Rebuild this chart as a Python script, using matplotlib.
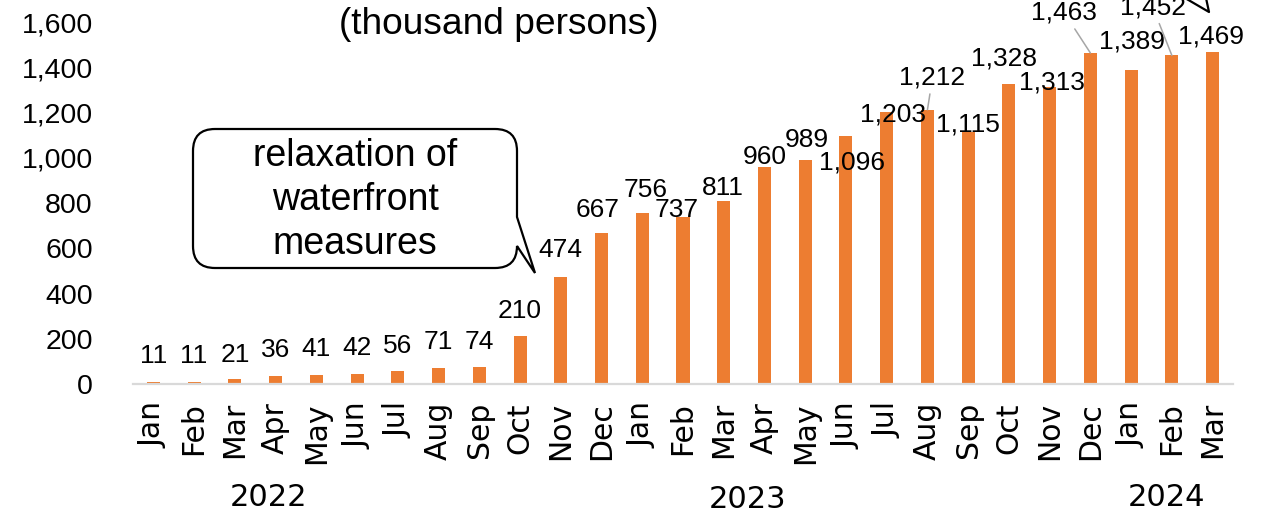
import matplotlib
matplotlib.use("Agg")
import matplotlib.pyplot as plt
from matplotlib.path import Path
from matplotlib.patches import PathPatch
from matplotlib.lines import Line2D

# Monthly visitors (thousand persons), Jan 2022 - Mar 2024.
months = ["Jan", "Feb", "Mar", "Apr", "May", "Jun", "Jul", "Aug", "Sep", "Oct",
          "Nov", "Dec", "Jan", "Feb", "Mar", "Apr", "May", "Jun", "Jul", "Aug",
          "Sep", "Oct", "Nov", "Dec", "Jan", "Feb", "Mar"]
visitors = [11, 11, 21, 36, 41, 42, 56, 71, 74, 210, 474, 667, 756, 737, 811,
            960, 989, 1096, 1203, 1212, 1115, 1328, 1313, 1463, 1389, 1452, 1469]
years = ["2022", "2023", "2024"]
yticks = [0, 200, 400, 600, 800, 1000, 1200, 1400, 1600]
unit_text = "(thousand persons)"
callout_text = "relaxation of\nwaterfront\nmeasures"

# Label placement (pixels from the bar top to the label centre), as in the original.
label_nudge = [(0, 26), (0, 26), (0, 24), (0, 26), (0, 26), (0, 26), (0, 25),
               (0, 26), (0, 25), (0, 25), (0, 27), (-4, 23), (3, 23), (-6, 7),
               (-1, 13), (0, 10), (2, 20), (6, -26), (6, -3), (5, 32), (0, 7),
               (-5, 25), (2, 4), (-26, 40), (1, 28), (-19, 48), (-2, 15)]
leader_lines = {19, 23, 25}

W, H = 1261, 515
ORANGE = "#ED7D31"
ARIAL = "Liberation Sans"


def fig_xy(x, y):
    """Pixel position (from top-left) -> figure fraction."""
    return x / W, 1 - y / H


fig = plt.figure(figsize=(W / 100, H / 100), dpi=100)
ax = fig.add_axes([133 / W, 1 - 384 / H, 1100 / W, 362 / H])

x = list(range(len(visitors)))
ax.bar(x, visitors, width=0.32, color=ORANGE, zorder=2)
ax.set_xlim(-0.5, len(visitors) - 0.5)
ax.set_ylim(0, 1600)

for s in ["top", "right", "left"]:
    ax.spines[s].set_visible(False)
ax.spines["bottom"].set_color("#D9D9D9")
ax.spines["bottom"].set_linewidth(1.6)

ax.set_yticks(yticks)
ax.set_yticklabels([f"{t:,}" for t in yticks], family=ARIAL, fontsize=20.5)
ax.set_xticks(x)
ax.set_xticklabels(months, rotation=90, family="DejaVu Sans", fontsize=21.5)
ax.tick_params(axis="y", length=0, pad=29)
ax.tick_params(axis="x", length=0, pad=13)

# data labels
for i, v in enumerate(visitors):
    dx, dy = label_nudge[i]
    props = None
    if i in leader_lines:
        props = dict(arrowstyle="-", color="#A6A6A6", lw=1.1, shrinkA=1, shrinkB=0)
    ax.annotate(f"{v:,}", xy=(i, v), xytext=(dx * 0.72, dy * 0.72),
                textcoords="offset points", ha="center", va="center",
                family=ARIAL, fontsize=19, annotation_clip=False,
                arrowprops=props)

# year labels under the month labels
for yr, (px, py) in zip(years, [(268, 497), (748, 500), (1166, 497)]):
    fig.text(*fig_xy(px, py), yr, ha="center", va="center",
             family="DejaVu Sans", fontsize=22)

fig.text(*fig_xy(499, 25), unit_text, ha="center", va="center",
         family=ARIAL, fontsize=26.7)

# speech-bubble callout
L, R, T, B, r = 193, 517, 129, 268, 22
pts = [
    ((L + r, T), Path.MOVETO),
    ((R - r, T), Path.LINETO),
    ((R, T), Path.CURVE3), ((R, T + r), Path.CURVE3),
    ((R, 217), Path.LINETO),
    ((535, 273), Path.LINETO),
    ((R, B - r), Path.LINETO),
    ((R, B), Path.CURVE3), ((R - r, B), Path.CURVE3),
    ((L + r, B), Path.LINETO),
    ((L, B), Path.CURVE3), ((L, B - r), Path.CURVE3),
    ((L, T + r), Path.LINETO),
    ((L, T), Path.CURVE3), ((L + r, T), Path.CURVE3),
    ((L + r, T), Path.CLOSEPOLY),
]
verts = [fig_xy(*p) for p, _ in pts]
codes = [c for _, c in pts]
bubble = PathPatch(Path(verts, codes), facecolor="white", edgecolor="black",
                   lw=1.6, transform=fig.transFigure, zorder=5)
fig.add_artist(bubble)
fig.text(*fig_xy(355, 200), callout_text, ha="center", va="center",
         family=ARIAL, fontsize=27, linespacing=1.3, zorder=6)

# tail of a second callout cut off at the top edge
tail = [fig_xy(1185, -2), fig_xy(1209, 12), fig_xy(1206, -2)]
fig.add_artist(Line2D([p[0] for p in tail], [p[1] for p in tail],
                      color="black", lw=1.6, transform=fig.transFigure))

fig.savefig("out.png", dpi=100)
